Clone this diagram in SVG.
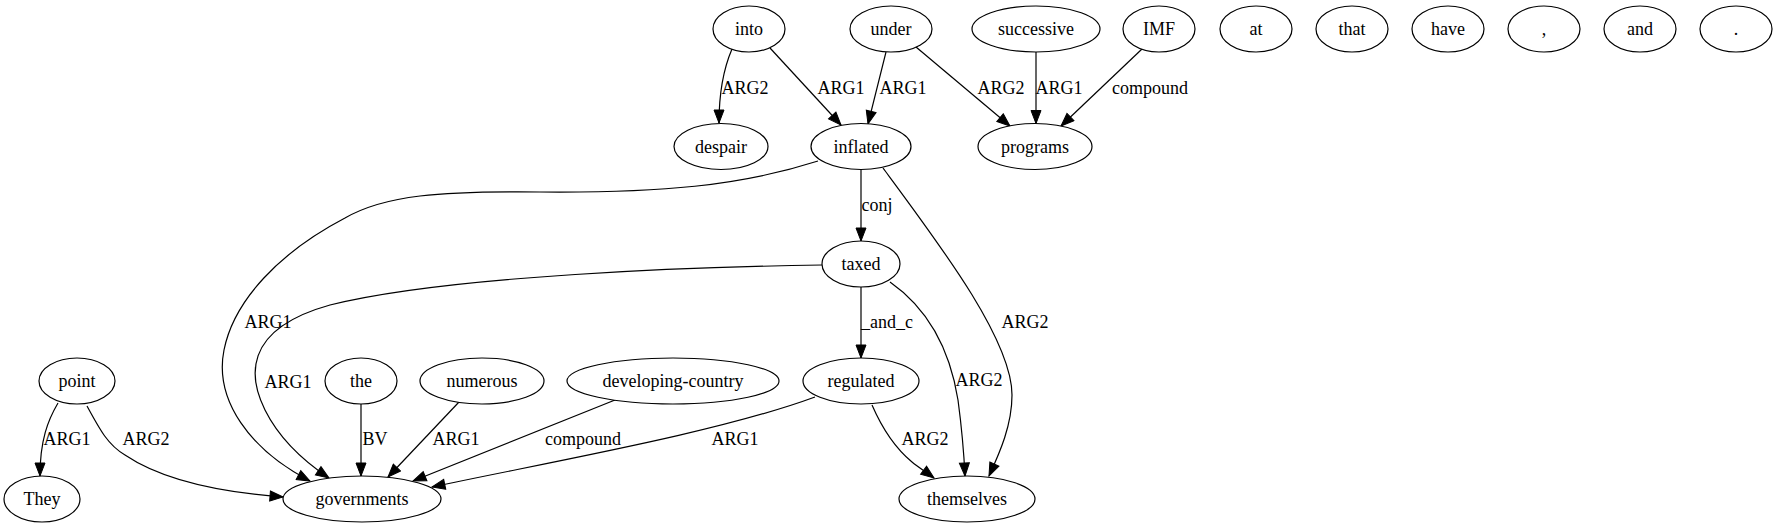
<svg xmlns="http://www.w3.org/2000/svg" width="1777" height="528" viewBox="0 0 1777 528">
<style>
.n ellipse{fill:#fff;stroke:#000;stroke-width:1.2}
text{font-family:"Liberation Serif","Times New Roman",Times,serif;font-size:18px;text-anchor:middle;fill:#000}
.e path{fill:none;stroke:#000;stroke-width:1.2;marker-end:url(#ah)}
</style>
<defs>
<marker id="ah" markerUnits="userSpaceOnUse" markerWidth="16" markerHeight="12" refX="13" refY="5" orient="auto" viewBox="-1 -1 16 12">
<path d="M0,0 L13,5 L0,10 Z" fill="#000" stroke="#000" stroke-width="1"/>
</marker>
</defs>
<rect x="0" y="0" width="1777" height="528" fill="#fff"/>
<g id="edges" class="e">
<path d="M732,49 C723,70 719,95 719,123"/>
<path d="M770,48 L841,125"/>
<path d="M886,52 L868,124"/>
<path d="M916,47 L1010,126"/>
<path d="M1036,52 L1036,123.5"/>
<path d="M1142,49 L1061,126"/>
<path d="M861,170 L861,241"/>
<path d="M861,287 L861,358"/>
<path d="M818,161 C740,186 660,193 540,192 C440,191 385,195 345,218 C280,252 234,300 224,350 C214,400 250,450 310,481"/>
<path d="M883,168 C940,245 1012,340 1012,395 C1012,425 1000,452 989,476"/>
<path d="M822,265 C700,267 450,275 330,305 C240,330 250,380 265,410 C280,440 305,462 329,478"/>
<path d="M890,282 C930,310 950,350 958,400 C962,430 964,455 965,476"/>
<path d="M872,405 C882,428 895,448 912,462 C918,467 926,472 934,478"/>
<path d="M815,397 C720,432 560,460 432,487"/>
<path d="M615,400 L413,481"/>
<path d="M459,402 L388,477"/>
<path d="M361,404 L361,476"/>
<path d="M58,403 C48,420 40,440 40,476"/>
<path d="M87,406 C100,430 108,445 125,455 C165,482 230,493 283,497"/>
</g>
<g id="edge-labels">
<text x="745" y="94">ARG2</text>
<text x="841" y="94">ARG1</text>
<text x="903" y="94">ARG1</text>
<text x="1001" y="94">ARG2</text>
<text x="1059" y="94">ARG1</text>
<text x="1150" y="94">compound</text>
<text x="877" y="211">conj</text>
<text x="887" y="328">_and_c</text>
<text x="1025" y="328">ARG2</text>
<text x="268" y="328">ARG1</text>
<text x="979" y="386">ARG2</text>
<text x="288" y="388">ARG1</text>
<text x="925" y="445">ARG2</text>
<text x="67" y="445">ARG1</text>
<text x="146" y="445">ARG2</text>
<text x="375" y="445">BV</text>
<text x="456" y="445">ARG1</text>
<text x="583" y="445">compound</text>
<text x="735" y="445">ARG1</text>
</g>
<g id="into" class="n"><ellipse cx="749" cy="29" rx="36" ry="23"/><text x="749" y="35">into</text></g>
<g id="under" class="n"><ellipse cx="891" cy="29" rx="41" ry="23"/><text x="891" y="35">under</text></g>
<g id="successive" class="n"><ellipse cx="1036" cy="29" rx="64" ry="23"/><text x="1036" y="35">successive</text></g>
<g id="IMF" class="n"><ellipse cx="1159" cy="29" rx="36" ry="23"/><text x="1159" y="35">IMF</text></g>
<g id="at" class="n"><ellipse cx="1256" cy="29" rx="36" ry="23"/><text x="1256" y="35">at</text></g>
<g id="that" class="n"><ellipse cx="1352" cy="29" rx="36" ry="23"/><text x="1352" y="35">that</text></g>
<g id="have" class="n"><ellipse cx="1448" cy="29" rx="36" ry="23"/><text x="1448" y="35">have</text></g>
<g id="comma" class="n"><ellipse cx="1544" cy="29" rx="36" ry="23"/><text x="1544" y="35">,</text></g>
<g id="and" class="n"><ellipse cx="1640" cy="29" rx="36" ry="23"/><text x="1640" y="35">and</text></g>
<g id="period" class="n"><ellipse cx="1736" cy="29" rx="36" ry="23"/><text x="1736" y="35">.</text></g>
<g id="despair" class="n"><ellipse cx="721" cy="146.5" rx="47" ry="23"/><text x="721" y="152.5">despair</text></g>
<g id="inflated" class="n"><ellipse cx="861" cy="146.5" rx="50" ry="23"/><text x="861" y="152.5">inflated</text></g>
<g id="programs" class="n"><ellipse cx="1035" cy="146.5" rx="57" ry="23"/><text x="1035" y="152.5">programs</text></g>
<g id="taxed" class="n"><ellipse cx="861" cy="264" rx="39" ry="23"/><text x="861" y="270">taxed</text></g>
<g id="point" class="n"><ellipse cx="77" cy="381" rx="38" ry="23"/><text x="77" y="387">point</text></g>
<g id="the" class="n"><ellipse cx="361" cy="381" rx="36" ry="23"/><text x="361" y="387">the</text></g>
<g id="numerous" class="n"><ellipse cx="482" cy="381" rx="62" ry="23"/><text x="482" y="387">numerous</text></g>
<g id="developing-country" class="n"><ellipse cx="673" cy="381" rx="106" ry="23"/><text x="673" y="387">developing-country</text></g>
<g id="regulated" class="n"><ellipse cx="861" cy="381" rx="58" ry="23"/><text x="861" y="387">regulated</text></g>
<g id="They" class="n"><ellipse cx="42" cy="499" rx="38" ry="23"/><text x="42" y="505">They</text></g>
<g id="governments" class="n"><ellipse cx="362" cy="499" rx="79" ry="23"/><text x="362" y="505">governments</text></g>
<g id="themselves" class="n"><ellipse cx="967" cy="499" rx="68" ry="23"/><text x="967" y="505">themselves</text></g>
</svg>
